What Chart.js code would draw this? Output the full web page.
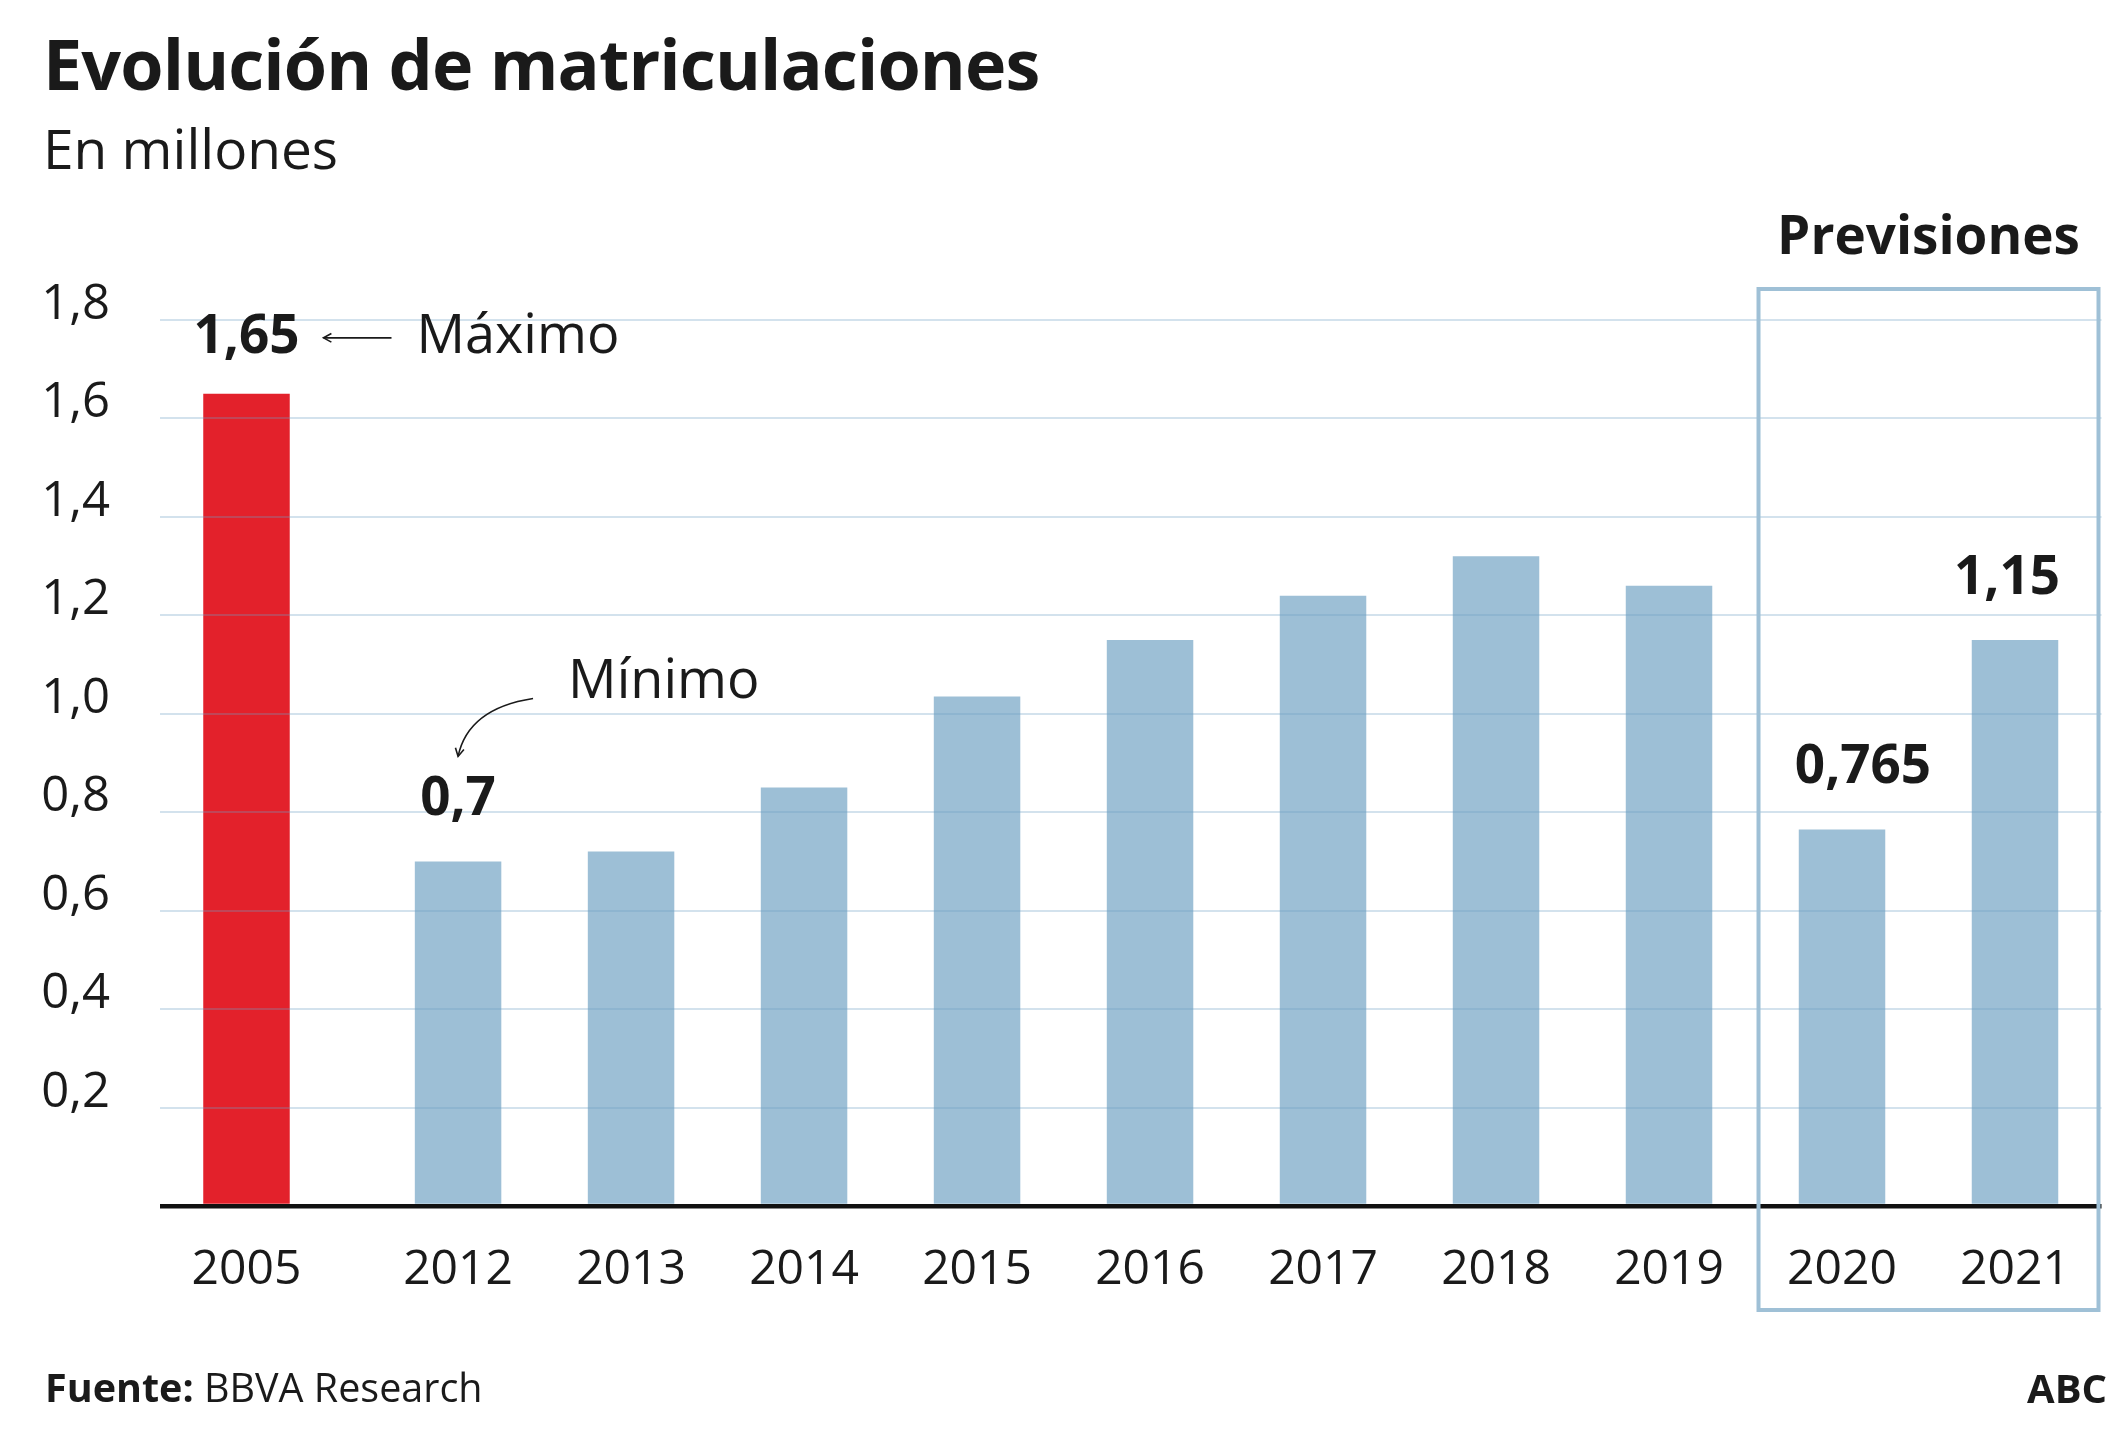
<!DOCTYPE html>
<html lang="es">
<head>
<meta charset="utf-8">
<title>Evolución de matriculaciones</title>
<script src="https://cdn.jsdelivr.net/npm/chart.js@4.4.1/dist/chart.umd.min.js"></script>
<style>
  html, body { margin: 0; padding: 0; background: #fff; }
  body { width: 2125px; height: 1455px; position: relative; overflow: hidden;
         font-family: 'Open Sans', sans-serif; color: #1a1a1a; }
  #wrap { position: absolute; left: 0; top: 0; width: 2125px; height: 1455px; }
  .txt { position: absolute; margin: 0; line-height: 1; white-space: nowrap; }
  #title { left: 43px; top: 28px; font-size: 70px; font-weight: 700; letter-spacing: -0.9px; }
  #subtitle { left: 43px; top: 120px; font-size: 55px; font-weight: 400; }
  #source { left: 45px; top: 1368px; font-size: 39.5px; }
  #source b { font-weight: 700; }
  #brand { right: 18px; top: 1368px; font-size: 40px; font-weight: 700; }
</style>
</head>
<body>
<div id="wrap"><canvas id="chart"></canvas></div>
<h1 class="txt" id="title">Evolución de matriculaciones</h1>
<div class="txt" id="subtitle">En millones</div>
<div class="txt" id="source"><b>Fuente:</b> BBVA Research</div>
<div class="txt" id="brand">ABC</div>

<script>
// data
const years = ['2005', '2012', '2013', '2014', '2015', '2016', '2017', '2018', '2019', '2020', '2021'];
const registrations = [1.65, 0.70, 0.72, 0.85, 1.035, 1.15, 1.24, 1.32, 1.26, 0.765, 1.15];
const yTickValues = [0, 0.2, 0.4, 0.6, 0.8, 1.0, 1.2, 1.4, 1.6, 1.8];
const labelledYears = ['2005', '2012', '2020', '2021'];
const forecastYears = ['2020', '2021'];

// style
const RED = '#e3212b';
const BLUE = '#9dbfd6';
const BOX = '#9fc0d6';
const INK = '#1a1a1a';
const GRID = 'rgba(110, 160, 195, 0.3)';
const GAP_AFTER_FIRST = 0.223; // extra space between 2005 and 2012, in slots
const FONT = "'Open Sans', sans-serif";

const fmt = v => String(v).replace('.', ',');

// category axis that leaves a gap after the first category
class GapScale extends Chart.CategoryScale {
  static id = 'gapcategory';
  static defaults = Chart.CategoryScale.defaults;
  getPixelForValue(value) {
    if (typeof value !== 'number') value = this.parse(value);
    if (value === null) return NaN;
    const v = value >= 1 ? value + GAP_AFTER_FIRST : value;
    return this.getPixelForDecimal((v - this._startValue) / (this._valueRange + GAP_AFTER_FIRST));
  }
}
Chart.register(GapScale);

const maxIdx = registrations.indexOf(Math.max(...registrations));
const minIdx = registrations.indexOf(Math.min(...registrations));

function arrowHead(ctx, tx, ty, dx, dy, len) {
  const a = Math.atan2(dy, dx);
  ctx.beginPath();
  ctx.moveTo(tx - len * Math.cos(a - 0.5), ty - len * Math.sin(a - 0.5));
  ctx.lineTo(tx, ty);
  ctx.lineTo(tx - len * Math.cos(a + 0.5), ty - len * Math.sin(a + 0.5));
  ctx.stroke();
}

const annotations = {
  id: 'annotations',
  afterDraw(chart) {
    const ctx = chart.ctx;
    const bars = chart.getDatasetMeta(0).data;
    ctx.save();

    // forecast box
    const first = years.indexOf(forecastYears[0]);
    const last = years.indexOf(forecastYears[forecastYears.length - 1]);
    const slot = bars[last].x - bars[last - 1].x;
    const left = (bars[first - 1].x + bars[first].x) / 2 + 3;
    const right = bars[last].x + slot / 2 - 3;
    ctx.strokeStyle = BOX;
    ctx.lineWidth = 4;
    ctx.strokeRect(left, 289, right - left, 1310 - 289);
    ctx.fillStyle = INK;
    ctx.font = '700 53px ' + FONT;
    ctx.textAlign = 'center';
    ctx.textBaseline = 'alphabetic';
    ctx.fillText('Previsiones', (left + right) / 2, 254);

    // value labels
    const shift = { '2020': 21, '2021': -8 };
    ctx.font = '700 53px ' + FONT;
    labelledYears.forEach(yr => {
      const i = years.indexOf(yr);
      const b = bars[i];
      const gap = i === maxIdx ? 41 : 46;
      ctx.fillText(fmt(registrations[i]), b.x + (shift[yr] || 0), b.y - gap);
    });

    // Máximo
    ctx.strokeStyle = INK;
    ctx.lineWidth = 1.6;
    const bm = bars[maxIdx];
    const lbM = bm.y - 41;
    ctx.beginPath();
    ctx.moveTo(bm.x + 145, lbM - 15);
    ctx.lineTo(bm.x + 77, lbM - 15);
    ctx.stroke();
    arrowHead(ctx, bm.x + 77, lbM - 15, -1, 0, 9);
    ctx.font = '400 54px ' + FONT;
    ctx.textAlign = 'left';
    ctx.fillText('Máximo', bm.x + 170, lbM);

    // Mínimo
    const bn = bars[minIdx];
    const lbN = bn.y - 46;
    const sx = bn.x + 75, sy = lbN - 117;
    const cx = bn.x + 10, cy = lbN - 107;
    const tx = bn.x, ty = lbN - 59;
    ctx.beginPath();
    ctx.moveTo(sx, sy);
    ctx.quadraticCurveTo(cx, cy, tx, ty);
    ctx.stroke();
    arrowHead(ctx, tx, ty, tx - cx, ty - cy, 9);
    ctx.fillText('Mínimo', bn.x + 110, sy);

    ctx.restore();
  }
};

Chart.defaults.font.family = FONT;
Chart.defaults.color = INK;

new Chart(document.getElementById('chart'), {
  type: 'bar',
  data: {
    labels: years,
    datasets: [{
      data: registrations,
      backgroundColor: registrations.map((v, i) => i === maxIdx ? RED : BLUE),
      borderWidth: 0,
      categoryPercentage: 1,
      barPercentage: 0.5
    }]
  },
  options: {
    responsive: true,
    maintainAspectRatio: false,
    animation: false,
    events: [],
    layout: { padding: { top: 320, left: 0, right: 23.5, bottom: 149 } },
    plugins: { legend: { display: false }, tooltip: { enabled: false } },
    scales: {
      x: {
        type: 'gapcategory',
        offset: true,
        grid: { display: false },
        border: { display: false },
        ticks: { font: { size: 48 }, color: INK, padding: 28, maxRotation: 0, autoSkip: false },
        afterFit: s => { s.height = 100; }
      },
      y: {
        min: 0,
        max: 1.8,
        afterBuildTicks: s => { s.ticks = yTickValues.map(v => ({ value: v })); },
        afterFit: s => { s.width = 160; },
        border: { display: false },
        grid: {
          z: 1,
          drawTicks: false,
          color: c => c.tick.value === 0 ? '#111' : GRID,
          lineWidth: c => c.tick.value === 0 ? 4.5 : 2
        },
        ticks: {
          font: { size: 49 },
          color: INK,
          padding: 50,
          labelOffset: -15,
          callback: v => v === 0 ? '' : v.toFixed(1).replace('.', ',')
        }
      }
    }
  },
  plugins: [annotations]
});
</script>
</body>
</html>
